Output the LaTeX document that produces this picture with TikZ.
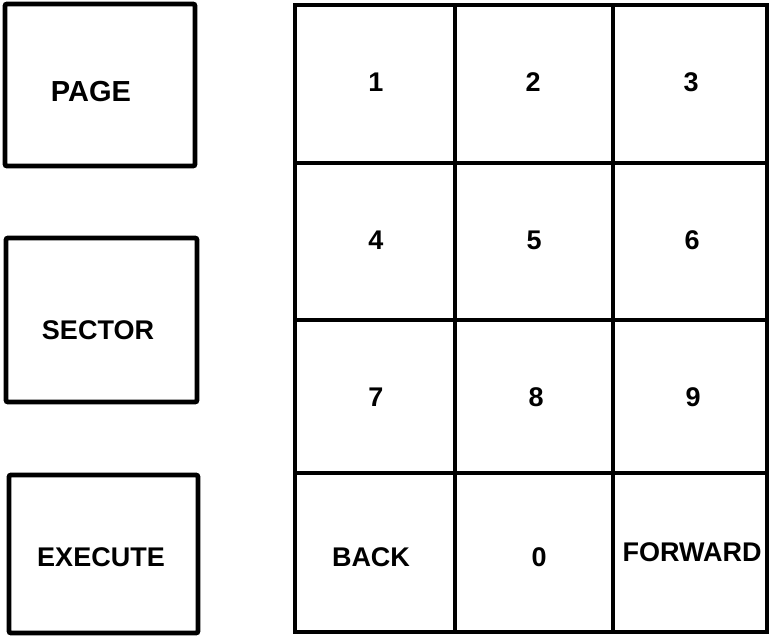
\documentclass[tikz,border=0pt]{standalone}
\usepackage{fontspec}
\setmainfont{Liberation Sans}
\begin{document}
\begin{tikzpicture}[x=1pt,y=-1pt,
  keybox/.style={draw=black,line width=4.8pt,rounded corners=2pt},
  gridline/.style={draw=black,line width=4.8pt},
  lbl/.style={font=\fontsize{27}{32}\selectfont\bfseries,inner sep=0pt}]
\useasboundingbox (0,0) rectangle (775,637);
% left keys
\draw[keybox] (5,4) rectangle (195,166);
\node[lbl,font=\fontsize{29}{34}\selectfont\bfseries] (page) at (91,92) {PAGE};
\draw[keybox] (6,238) rectangle (197,402);
\node[lbl] (sector) at (98,330) {SECTOR};
\draw[keybox] (9,475) rectangle (198,633);
\node[lbl] (execute) at (101,557) {EXECUTE};
% keypad grid
\draw[gridline] (295,5) rectangle (767,632);
\draw[gridline] (455,5) -- (455,632);
\draw[gridline] (613,5) -- (613,632);
\draw[gridline] (295,163) -- (767,163);
\draw[gridline] (295,320) -- (767,320);
\draw[gridline] (295,473) -- (767,473);
% key labels
\node[lbl] (k1) at (376,82) {1};
\node[lbl] (k2) at (533,82) {2};
\node[lbl] (k3) at (691,82) {3};
\node[lbl] (k4) at (376,240) {4};
\node[lbl] (k5) at (534,240) {5};
\node[lbl] (k6) at (692,240) {6};
\node[lbl] (k7) at (376,397) {7};
\node[lbl] (k8) at (536,397) {8};
\node[lbl] (k9) at (693,397) {9};
\node[lbl] (back) at (371,557) {BACK};
\node[lbl] (k0) at (539,557) {0};
\node[lbl] (forward) at (692,552) {FORWARD};
\end{tikzpicture}
\end{document}
